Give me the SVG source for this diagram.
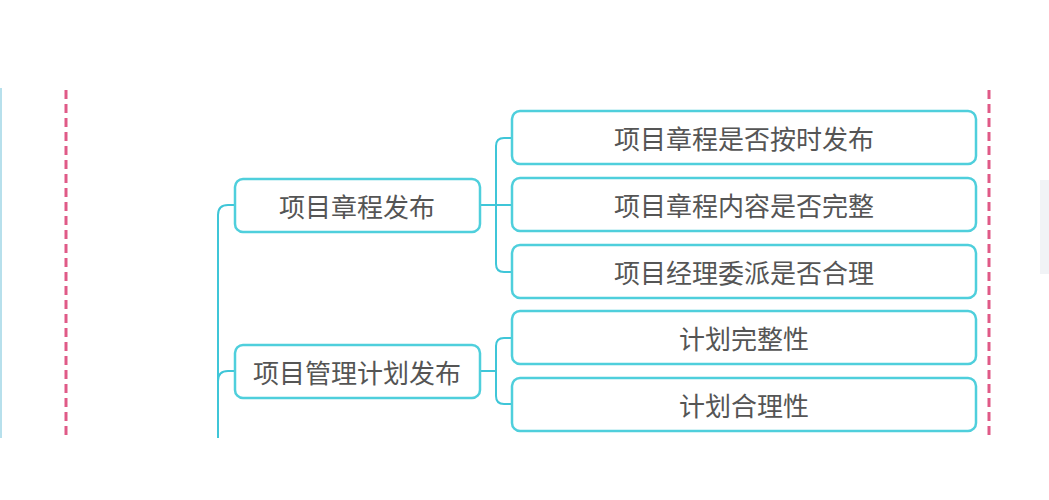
<svg xmlns="http://www.w3.org/2000/svg" width="1049" height="500" viewBox="0 0 1049 500">
<style>
.n{fill:#fff;stroke:#4fcfdc;stroke-width:2.5}
.t{font-family:"Noto Sans CJK SC","Liberation Sans",sans-serif;font-size:26px;fill:#555;text-anchor:middle;dominant-baseline:central}
.c{fill:none;stroke:#3fc6d8;stroke-width:2}
.d{stroke:#e05a87;stroke-width:3;stroke-dasharray:9,5}
</style>
<rect width="1049" height="500" fill="#fff"/>
<line x1="1" y1="88" x2="1" y2="438" stroke="#9fd6e6" stroke-width="1.5"/>
<rect x="1040" y="180" width="9" height="94" fill="#f1f3f6"/>
<line class="d" x1="66" y1="90" x2="66" y2="437"/>
<line class="d" x1="989" y1="90" x2="989" y2="437"/>
<g id="connectors">
<path class="c" stroke-width="3" d="M218 438 V215 Q218 205 228 205 H235 M218 381 Q218 371 228 371 H235"/>
<path class="c" d="M480 205 H512 M504 138 Q496 138 496 146 V264 Q496 272 504 272 H512 M504 138 H512"/>
<path class="c" d="M480 371 H496 M512 338 H504 Q496 338 496 346 V396 Q496 404 504 404 H512"/>
</g>
<g id="n1"><rect class="n" x="235" y="179" width="245" height="53" rx="8"/><text class="t" x="357" y="205">项目章程发布</text></g>
<g id="n2"><rect class="n" x="235" y="345" width="245" height="53" rx="8"/><text class="t" x="357" y="371">项目管理计划发布</text></g>
<g id="n3"><rect class="n" x="512" y="111" width="464" height="53" rx="8"/><text class="t" x="744" y="137">项目章程是否按时发布</text></g>
<g id="n4"><rect class="n" x="512" y="178" width="464" height="53" rx="8"/><text class="t" x="744" y="204">项目章程内容是否完整</text></g>
<g id="n5"><rect class="n" x="512" y="245" width="464" height="53" rx="8"/><text class="t" x="744" y="271">项目经理委派是否合理</text></g>
<g id="n6"><rect class="n" x="512" y="311" width="464" height="53" rx="8"/><text class="t" x="744" y="337">计划完整性</text></g>
<g id="n7"><rect class="n" x="512" y="378" width="464" height="53" rx="8"/><text class="t" x="744" y="404">计划合理性</text></g>
</svg>
